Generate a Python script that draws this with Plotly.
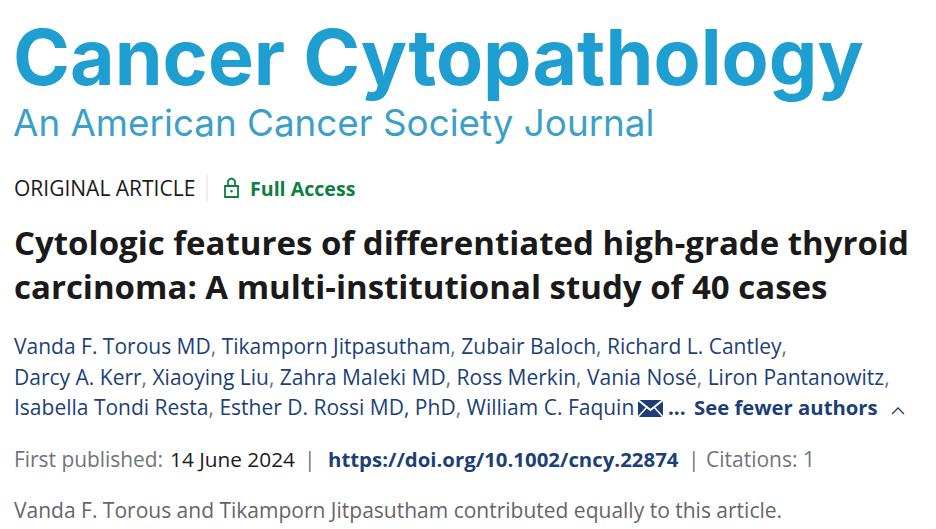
import plotly.graph_objects as go

# Text of the article header
journal_name = "Cancer Cytopathology"
journal_tagline = "An American Cancer Society Journal"
article_type = "ORIGINAL ARTICLE"
access_label = "Full Access"
title_lines = [
    "Cytologic features of differentiated high-grade thyroid",
    "carcinoma: A multi-institutional study of 40 cases",
]
author_lines = [
    ["Vanda F. Torous MD", "Tikamporn Jitpasutham", "Zubair Baloch", "Richard L. Cantley", ""],
    ["Darcy A. Kerr", "Xiaoying Liu", "Zahra Maleki MD", "Ross Merkin", "Vania Nosé", "Liron Pantanowitz", ""],
    ["Isabella Tondi Resta", "Esther D. Rossi MD, PhD", "William C. Faquin"],
]
ellipsis = "..."
see_fewer = "See fewer authors"
published_label = "First published:"
published_date = "14 June 2024"
doi = "https://doi.org/10.1002/cncy.22874"
citations = "Citations: 1"
footnote = "Vanda F. Torous and Tikamporn Jitpasutham contributed equally to this article."

BLUE = "#1f9fd1"
BLUE2 = "#3b9fc9"
NAVY = "#1c3f78"
GREY = "#70757a"
DARK = "#1a1a1a"
GREEN = "#0a8043"
BODY = "Open Sans"

fig = go.Figure()


def label(x, y, text, size, color, family=BODY, weight=None):
    font = dict(size=size, color=color, family=family)
    if weight:
        font["weight"] = weight
    fig.add_annotation(x=x, y=y, text=text, xref="x", yref="y", xanchor="left", yanchor="middle",
                       showarrow=False, font=font, align="left", borderpad=0, borderwidth=0)


def authors_html(names):
    comma = f'<span style="color:{GREY}">, </span>'
    return comma.join(n for n in names if n) + (f'<span style="color:{GREY}">,</span>' if names[-1] == "" else "")


# Logo
label(13, 57, journal_name, 77, BLUE, "Inter", 700)
label(12.5, 122, journal_tagline, 36.8, BLUE2, "Inter", 400)

# Article type row
label(14, 188, article_type, 21, DARK)
label(250, 188, f"<b>{access_label}</b>", 19.6, GREEN)
fig.add_shape(type="line", x0=207, x1=207, y0=175, y1=202, line=dict(color="#dddddd", width=1))
fig.add_shape(type="rect", x0=225, x1=238, y0=186, y1=197, line=dict(color=GREEN, width=1.8))
fig.add_shape(type="path", path="M 228 186 L 228 181 Q 231.5 176 235 181 L 235 186",
              line=dict(color=GREEN, width=1.8))
fig.add_shape(type="circle", x0=230.3, x1=232.7, y0=190, y1=192.4, fillcolor=GREEN, line=dict(color=GREEN, width=0))

# Title
for y, line in zip([242, 286], title_lines):
    label(13.5, y, f"<b>{line}</b>", 33, DARK)

# Authors
for y, names in zip([346, 377, 407], author_lines):
    label(13.5, y, authors_html(names), 21, NAVY)

# Envelope, see fewer authors, chevron
fig.add_shape(type="rect", x0=638, x1=663, y0=400, y1=417, fillcolor=NAVY, line=dict(width=0))
fig.add_shape(type="path", path="M 638 400 L 650.5 410 L 663 400", line=dict(color="white", width=2))
fig.add_shape(type="path", path="M 638 417 L 647 407 M 663 417 L 654 407", line=dict(color="white", width=1.5))
label(668, 407, f"<b>{ellipsis}</b>", 20.6, NAVY)
label(694, 407, f"<b>{see_fewer}</b>", 20.3, NAVY)
fig.add_shape(type="path", path="M 892 414 L 898 408 L 904 414", line=dict(color=NAVY, width=1.3))

# Publication row
label(14, 459, published_label, 20.9, GREY)
label(170, 459, published_date, 20.8, DARK)
label(303.5, 459, "|", 21, GREY)
label(327.5, 459, f"<b>{doi}</b>", 20.4, NAVY)
label(688, 459, "|", 21, GREY)
label(706, 459, citations, 21, GREY)

label(14, 510, footnote, 21, "#666666")

fig.update_layout(
    width=936, height=529, margin=dict(l=0, r=0, t=0, b=0),
    paper_bgcolor="white", plot_bgcolor="white", showlegend=False,
    xaxis=dict(range=[0, 936], visible=False, fixedrange=True),
    yaxis=dict(range=[529, 0], visible=False, fixedrange=True),
)

# page margin would push everything 8px off
fig.write_html("out.html", config=dict(displayModeBar=False),
               post_script="document.body.style.margin='0';document.body.style.overflow='hidden';")
